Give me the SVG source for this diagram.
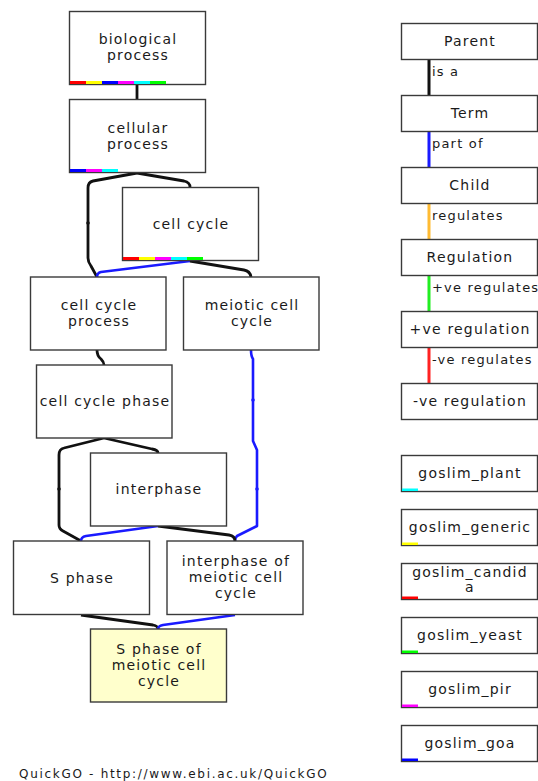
<svg xmlns="http://www.w3.org/2000/svg" width="538" height="781" viewBox="0 0 538 781">
  <style>
    .box { fill: #ffffff; stroke: #3a3a3a; stroke-width: 1.4; }
    .sel { fill: #ffffcc; stroke: #3a3a3a; stroke-width: 1.4; }
    .lbl { font-family: "DejaVu Sans", "Liberation Sans", sans-serif; font-size: 14px; letter-spacing: 1.2px; fill: #1a1a1a; text-anchor: middle; }
    .rel { font-family: "DejaVu Sans", "Liberation Sans", sans-serif; font-size: 13px; letter-spacing: 1.2px; fill: #1a1a1a; }
    .foot { font-family: "DejaVu Sans", "Liberation Sans", sans-serif; font-size: 12px; letter-spacing: 1.7px; fill: #1a1a1a; }
    .isa { fill: none; stroke: #111111; stroke-width: 2.8; stroke-linejoin: round; }
    .partof { fill: none; stroke: #1a1aff; stroke-width: 2.6; stroke-linejoin: round; }
    .dot-k { fill: #111111; }
    .dot-b { fill: #1a1aff; }
    .r { fill: #ff0000; } .y { fill: #ffff00; } .b { fill: #0000ff; }
    .m { fill: #ff00ff; } .c { fill: #00ffff; } .g { fill: #00ff00; }
  </style>

  <!-- connectors -->
  <g id="connectors">
    <path class="isa" d="M137,84 V99"/>
    <path class="isa" d="M137,173 L184,181 Q190,182.5 190,187"/>
    <path class="isa" d="M137,173 L93,181 Q88,182 88,188 V258 Q88,262 91,266 L97,277"/>
    <path class="partof" d="M190,261 L101,272 Q97,273 97,277"/>
    <path class="isa" d="M190,261 L244,270 Q250,271 251,277"/>
    <path class="isa" d="M97,350 Q97,356 101,359 Q104,362 104,365"/>
    <path class="isa" d="M104,438 L64,448 Q59,449 59,455 V525 Q59,529 63,531 L81,541"/>
    <path class="isa" d="M104,438 L152,449 Q158,450 158,453"/>
    <path class="partof" d="M251,350 Q251,356 253,359 V441 L257,450 V526 L237,536 Q235,538 235,541"/>
    <path class="partof" d="M158,526 L86,536 Q81,537 81,541"/>
    <path class="isa" d="M158,526 L229,535 Q235,536 235,541"/>
    <path class="isa" d="M81,615 L153,625 Q158,626 158,629"/>
    <path class="partof" d="M235,615 L163,625 Q158,626 158,629"/>
    <circle class="dot-k" cx="88" cy="223" r="1.8"/>
    <circle class="dot-k" cx="59" cy="489" r="1.8"/>
    <circle class="dot-b" cx="253" cy="400" r="1.8"/>
    <circle class="dot-b" cx="257" cy="489" r="1.8"/>
  </g>

  <!-- term nodes -->
  <g id="biological-process">
    <rect class="box" x="69.5" y="11.5" width="136" height="73"/>
    <rect class="r" x="70" y="81" width="16" height="3"/>
    <rect class="y" x="86" y="81" width="16" height="3"/>
    <rect class="b" x="102" y="81" width="16" height="3"/>
    <rect class="m" x="118" y="81" width="16" height="3"/>
    <rect class="c" x="134" y="81" width="16" height="3"/>
    <rect class="g" x="150" y="81" width="16" height="3"/>
    <text class="lbl" x="138" y="44">biological</text>
    <text class="lbl" x="138" y="60">process</text>
  </g>
  <g id="cellular-process">
    <rect class="box" x="69.5" y="99.5" width="136" height="73"/>
    <rect class="b" x="70" y="169" width="16" height="3"/>
    <rect class="m" x="86" y="169" width="16" height="3"/>
    <rect class="c" x="102" y="169" width="16" height="3"/>
    <text class="lbl" x="138" y="132.5">cellular</text>
    <text class="lbl" x="138" y="148.5">process</text>
  </g>
  <g id="cell-cycle">
    <rect class="box" x="122.5" y="187.5" width="136" height="73"/>
    <rect class="r" x="123" y="257" width="16" height="3"/>
    <rect class="y" x="139" y="257" width="16" height="3"/>
    <rect class="m" x="155" y="257" width="16" height="3"/>
    <rect class="c" x="171" y="257" width="16" height="3"/>
    <rect class="g" x="187" y="257" width="16" height="3"/>
    <text class="lbl" x="191" y="228.5">cell cycle</text>
  </g>
  <g id="cell-cycle-process">
    <rect class="box" x="30.5" y="277" width="135.5" height="73"/>
    <text class="lbl" x="99" y="310">cell cycle</text>
    <text class="lbl" x="99" y="326">process</text>
  </g>
  <g id="meiotic-cell-cycle">
    <rect class="box" x="183.5" y="277" width="135.5" height="73"/>
    <text class="lbl" x="252" y="310">meiotic cell</text>
    <text class="lbl" x="252" y="326">cycle</text>
  </g>
  <g id="cell-cycle-phase">
    <rect class="box" x="36.5" y="365" width="135.5" height="73"/>
    <text class="lbl" x="105" y="406">cell cycle phase</text>
  </g>
  <g id="interphase">
    <rect class="box" x="90.5" y="453" width="136" height="73"/>
    <text class="lbl" x="159" y="494">interphase</text>
  </g>
  <g id="s-phase">
    <rect class="box" x="13.5" y="541" width="136" height="73.5"/>
    <text class="lbl" x="82" y="582.5">S phase</text>
  </g>
  <g id="interphase-of-meiotic-cell-cycle">
    <rect class="box" x="167" y="541" width="136" height="73.5"/>
    <text class="lbl" x="236" y="566">interphase of</text>
    <text class="lbl" x="236" y="582">meiotic cell</text>
    <text class="lbl" x="236" y="598">cycle</text>
  </g>
  <g id="s-phase-of-meiotic-cell-cycle">
    <rect class="sel" x="90.5" y="629" width="136" height="73"/>
    <text class="lbl" x="159" y="654">S phase of</text>
    <text class="lbl" x="159" y="670">meiotic cell</text>
    <text class="lbl" x="159" y="686">cycle</text>
  </g>

  <!-- relation key -->
  <g id="key-lines">
    <rect x="427.5" y="59" width="3" height="37" fill="#111111"/>
    <rect x="427.5" y="131" width="3" height="37" fill="#1a1aff"/>
    <rect x="427.5" y="203" width="3" height="37" fill="#ffbb33"/>
    <rect x="427.5" y="275" width="3" height="37" fill="#22ee22"/>
    <rect x="427.5" y="347" width="3" height="37" fill="#ff2222"/>
    <text class="rel" x="432" y="76">is a</text>
    <text class="rel" x="432" y="148">part of</text>
    <text class="rel" x="432" y="220">regulates</text>
    <text class="rel" x="432" y="292">+ve regulates</text>
    <text class="rel" x="432" y="364">-ve regulates</text>
  </g>
  <g id="key-parent">
    <rect class="box" x="401.5" y="23.5" width="136" height="36"/>
    <text class="lbl" x="470" y="46">Parent</text>
  </g>
  <g id="key-term">
    <rect class="box" x="401.5" y="95.5" width="136" height="36"/>
    <text class="lbl" x="470" y="118">Term</text>
  </g>
  <g id="key-child">
    <rect class="box" x="401.5" y="167.5" width="136" height="36"/>
    <text class="lbl" x="470" y="190">Child</text>
  </g>
  <g id="key-regulation">
    <rect class="box" x="401.5" y="239.5" width="136" height="36"/>
    <text class="lbl" x="470" y="262">Regulation</text>
  </g>
  <g id="key-positive-regulation">
    <rect class="box" x="401.5" y="311.5" width="136" height="36"/>
    <text class="lbl" x="470" y="334">+ve regulation</text>
  </g>
  <g id="key-negative-regulation">
    <rect class="box" x="401.5" y="383.5" width="136" height="36"/>
    <text class="lbl" x="470" y="406">-ve regulation</text>
  </g>

  <!-- GO slim key -->
  <g id="goslim-plant">
    <rect class="box" x="401.5" y="455.5" width="136" height="36"/>
    <rect class="c" x="402" y="488.5" width="16" height="2.5"/>
    <text class="lbl" x="470" y="478">goslim_plant</text>
  </g>
  <g id="goslim-generic">
    <rect class="box" x="401.5" y="509.5" width="136" height="36"/>
    <rect class="y" x="402" y="542.5" width="16" height="2.5"/>
    <text class="lbl" x="470" y="532">goslim_generic</text>
  </g>
  <g id="goslim-candida">
    <rect class="box" x="401.5" y="563.5" width="136" height="36"/>
    <rect class="r" x="402" y="596.5" width="16" height="2.5"/>
    <text class="lbl" x="470" y="577">goslim_candid</text>
    <text class="lbl" x="470" y="592">a</text>
  </g>
  <g id="goslim-yeast">
    <rect class="box" x="401.5" y="617.5" width="136" height="36"/>
    <rect class="g" x="402" y="650.5" width="16" height="2.5"/>
    <text class="lbl" x="470" y="640">goslim_yeast</text>
  </g>
  <g id="goslim-pir">
    <rect class="box" x="401.5" y="671.5" width="136" height="36"/>
    <rect class="m" x="402" y="704.5" width="16" height="2.5"/>
    <text class="lbl" x="470" y="694">goslim_pir</text>
  </g>
  <g id="goslim-goa">
    <rect class="box" x="401.5" y="725.5" width="136" height="36"/>
    <rect class="b" x="402" y="758.5" width="16" height="2.5"/>
    <text class="lbl" x="470" y="748">goslim_goa</text>
  </g>

  <text class="foot" x="19" y="778">QuickGO - http://www.ebi.ac.uk/QuickGO</text>
</svg>
